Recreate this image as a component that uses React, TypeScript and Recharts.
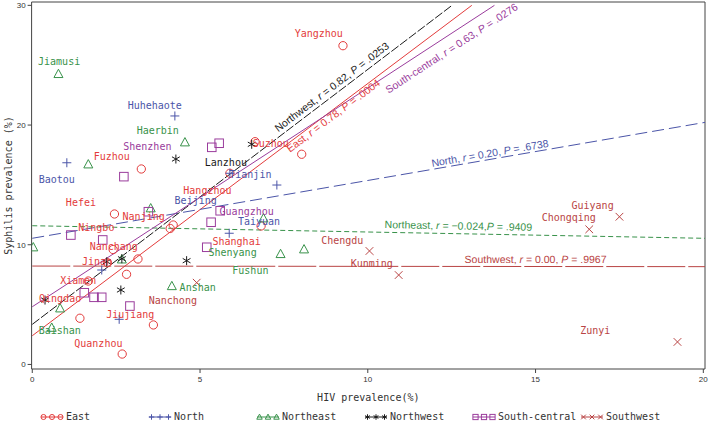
import React from 'react';
import { ScatterChart, Scatter, XAxis, YAxis, ReferenceLine, Legend, Label } from 'recharts';

// ---------- data ----------
const regions = ['East', 'North', 'Northeast', 'Northwest', 'South-central', 'Southwest'];

const eastPoints = [
  { x: 9.26, y: 26.63 }, { x: 6.64, y: 18.61 }, { x: 8.03, y: 17.56 }, { x: 3.25, y: 16.33 },
  { x: 5.89, y: 15.97 }, { x: 4.20, y: 11.65 }, { x: 4.11, y: 11.36 }, { x: 6.82, y: 11.57 },
  { x: 2.45, y: 12.57 }, { x: 2.41, y: 9.60 }, { x: 2.24, y: 8.50 }, { x: 3.15, y: 8.81 },
  { x: 2.81, y: 7.53 }, { x: 1.67, y: 6.97 }, { x: 1.42, y: 3.86 }, { x: 3.61, y: 3.30 },
  { x: 2.68, y: 0.87 },
];
const northPoints = [
  { x: 4.25, y: 20.76 }, { x: 1.03, y: 16.85 }, { x: 7.29, y: 14.99 }, { x: 5.87, y: 10.96 },
  { x: 2.07, y: 7.89 }, { x: 2.59, y: 3.77 }, { x: 5.89, y: 15.97 },
];
const northeastPoints = [
  { x: 0.78, y: 24.27 }, { x: 4.55, y: 18.56 }, { x: 1.67, y: 16.72 }, { x: 3.53, y: 13.05 },
  { x: 0.03, y: 9.79 }, { x: 2.67, y: 8.78 }, { x: 0.83, y: 4.69 }, { x: 0.58, y: 3.07 },
  { x: 4.16, y: 6.55 }, { x: 6.89, y: 12.21 }, { x: 7.40, y: 9.23 }, { x: 8.10, y: 9.62 },
];
const northwestPoints = [
  { x: 4.28, y: 17.16 }, { x: 6.54, y: 18.39 }, { x: 4.60, y: 8.67 }, { x: 2.64, y: 6.22 },
  { x: 0.38, y: 5.38 }, { x: 2.22, y: 8.58 }, { x: 2.67, y: 8.83 },
];
const southCentralPoints = [
  { x: 2.73, y: 15.69 }, { x: 5.35, y: 18.14 }, { x: 5.57, y: 18.48 }, { x: 3.46, y: 12.76 },
  { x: 1.15, y: 10.81 }, { x: 2.10, y: 10.40 }, { x: 5.33, y: 11.88 }, { x: 5.20, y: 9.79 },
  { x: 5.60, y: 12.84 }, { x: 1.55, y: 5.99 }, { x: 1.84, y: 5.61 }, { x: 2.07, y: 5.61 },
  { x: 2.91, y: 4.88 },
];
const southwestPoints = [
  { x: 17.50, y: 12.34 }, { x: 16.60, y: 11.29 }, { x: 19.23, y: 1.88 },
  { x: 10.05, y: 9.48 }, { x: 10.92, y: 7.47 }, { x: 4.90, y: 6.83 },
];

const pointsByRegion = {
  East: eastPoints,
  North: northPoints,
  Northeast: northeastPoints,
  Northwest: northwestPoints,
  'South-central': southCentralPoints,
  Southwest: southwestPoints,
};

// city labels (label centre, data units)
const cityLabels = [
  { name: 'Jiamusi', region: 'Northeast', x: 0.80, y: 25.29 },
  { name: 'Huhehaote', region: 'North', x: 3.65, y: 21.65 },
  { name: 'Haerbin', region: 'Northeast', x: 3.74, y: 19.59 },
  { name: 'Shenzhen', region: 'South-central', x: 3.43, y: 18.25 },
  { name: 'Fuzhou', region: 'East', x: 2.37, y: 17.36 },
  { name: 'Baotou', region: 'North', x: 0.73, y: 15.49 },
  { name: 'Lanzhou', region: 'Northwest', x: 5.77, y: 16.89 },
  { name: 'Hangzhou', region: 'East', x: 5.22, y: 14.52 },
  { name: 'Beijing', region: 'North', x: 4.87, y: 13.74 },
  { name: 'Tianjin', region: 'North', x: 6.50, y: 15.87 },
  { name: 'Guangzhou', region: 'South-central', x: 6.39, y: 12.82 },
  { name: 'Taiyuan', region: 'North', x: 6.76, y: 11.93 },
  { name: 'Shanghai', region: 'East', x: 6.09, y: 10.25 },
  { name: 'Shenyang', region: 'Northeast', x: 5.97, y: 9.37 },
  { name: 'Fushun', region: 'Northeast', x: 6.50, y: 7.83 },
  { name: 'Suzhou', region: 'East', x: 7.11, y: 18.48 },
  { name: 'Yangzhou', region: 'East', x: 8.54, y: 27.67 },
  { name: 'Hefei', region: 'East', x: 1.45, y: 13.55 },
  { name: 'Nanjing', region: 'East', x: 3.32, y: 12.40 },
  { name: 'Ningbo', region: 'East', x: 1.91, y: 11.46 },
  { name: 'Nanchang', region: 'East', x: 2.43, y: 9.84 },
  { name: 'Jinan', region: 'East', x: 1.93, y: 8.58 },
  { name: 'Xiamen', region: 'East', x: 1.37, y: 7.06 },
  { name: 'Qingdao', region: 'East', x: 0.83, y: 5.53 },
  { name: 'Nanchong', region: 'Southwest', x: 4.19, y: 5.38 },
  { name: 'Anshan', region: 'Northeast', x: 4.93, y: 6.41 },
  { name: 'Jiujiang', region: 'East', x: 2.92, y: 4.21 },
  { name: 'Baishan', region: 'Northeast', x: 0.82, y: 2.82 },
  { name: 'Quanzhou', region: 'East', x: 1.97, y: 1.77 },
  { name: 'Chengdu', region: 'Southwest', x: 9.24, y: 10.40 },
  { name: 'Kunming', region: 'Southwest', x: 10.12, y: 8.45 },
  { name: 'Guiyang', region: 'Southwest', x: 16.70, y: 13.32 },
  { name: 'Chongqing', region: 'Southwest', x: 15.99, y: 12.26 },
  { name: 'Zunyi', region: 'Southwest', x: 16.78, y: 2.82 },
];

// regression fits
const regIntercepts = { East: 2.40, North: 10.54, Northeast: 11.59, Northwest: 3.35, 'South-central': 4.82, Southwest: 8.22 };
const regSlopes = { East: 2.107, North: 0.483, Northeast: -0.0525, Northwest: 2.13, 'South-central': 1.828, Southwest: -0.0025 };
const regR = { East: '0.78', North: '0.20', Northeast: '\u22120.024', Northwest: '0.82', 'South-central': '0.63', Southwest: '0.00' };
const regP = { East: '.0004', North: '.6738', Northeast: '.9409', Northwest: '.0253', 'South-central': '.0276', Southwest: '.9967' };
// annotation centres (data units)
const regLabelPos = [
  { region: 'Northwest', x: 8.93, y: 23.18 },
  { region: 'East', x: 8.97, y: 20.78 },
  { region: 'South-central', x: 12.50, y: 26.41 },
  { region: 'North', x: 13.64, y: 17.64 },
  { region: 'Northeast', x: 12.70, y: 11.58 },
  { region: 'Southwest', x: 15.00, y: 8.78 },
];

const xTicks = [0, 5, 10, 15, 20];
const yTicks = [0, 10, 20, 30];

// ---------- styling ----------
const COLORS = {
  East: '#e33b3b',
  North: '#4b55a8',
  Northeast: '#38924a',
  Northwest: '#1a1a1a',
  'South-central': '#9a3c9c',
  Southwest: '#b94444',
};
const MARKERS = {
  East: 'circle', North: 'plus', Northeast: 'triangle', Northwest: 'star', 'South-central': 'square', Southwest: 'cross',
};
const DASHES = {
  East: undefined, North: '12 5', Northeast: '5 3', Northwest: '9 2', 'South-central': undefined, Southwest: '38 3',
};

const X_MIN = -0.02, X_MAX = 20.05, Y_MIN = -0.38, Y_MAX = 30.28, LINE_Y_MAX = 30;
const W = 708, H = 425;
const MARGIN = { top: 2, right: 3, bottom: 0, left: 0 };
const Y_AXIS_W = 31.6, X_AXIS_H = 42, LEGEND_H = 14;
const PLOT_W = W - MARGIN.right - MARGIN.left - Y_AXIS_W;
const PLOT_H = H - MARGIN.top - X_AXIS_H - LEGEND_H;
const PX_X = PLOT_W / (X_MAX - X_MIN);
const PX_Y = PLOT_H / (Y_MAX - Y_MIN);

const MONO = '"DejaVu Sans Mono", "Liberation Mono", monospace';
const SANS = '"Liberation Sans", Arial, sans-serif';

function markerEl(kind, color, cx, cy, s, key?) {
  const h = s / 2;
  const common = { fill: 'none', stroke: color, strokeWidth: 1 };
  switch (kind) {
    case 'circle':
      return <circle key={key} cx={cx} cy={cy} r={h * 0.92} {...common} />;
    case 'plus':
      return <path key={key} d={`M${cx - h},${cy}H${cx + h}M${cx},${cy - h}V${cy + h}`} {...common} />;
    case 'triangle':
      return <path key={key} d={`M${cx},${cy - h * 1.05}L${cx + h},${cy + h * 0.8}L${cx - h},${cy + h * 0.8}Z`} {...common} />;
    case 'square':
      return <rect key={key} x={cx - h * 0.95} y={cy - h * 0.95} width={h * 1.9} height={h * 1.9} {...common} />;
    case 'cross': {
      const d = h * 0.85;
      return <path key={key} d={`M${cx - d},${cy - d}L${cx + d},${cy + d}M${cx - d},${cy + d}L${cx + d},${cy - d}`} {...common} />;
    }
    case 'star': {
      const c = h * Math.cos(Math.PI / 6), sn = h * Math.sin(Math.PI / 6);
      return (
        <path key={key}
          d={`M${cx},${cy - h}V${cy + h}M${cx - c},${cy - sn}L${cx + c},${cy + sn}M${cx - c},${cy + sn}L${cx + c},${cy - sn}`}
          {...common} />
      );
    }
    default:
      return null;
  }
}

const makeShape = (region) => (props) => {
  const { cx, cy } = props;
  if (cx == null || cy == null) return null;
  return markerEl(MARKERS[region], COLORS[region], cx, cy, 9);
};

const CityLabelShape = (props) => {
  const { cx, cy, payload } = props;
  if (cx == null || cy == null) return null;
  return (
    <text x={cx} y={cy} dy={3.6} textAnchor="middle" fontFamily={MONO} fontSize={10}
      fill={COLORS[payload.region]}>
      {payload.name}
    </text>
  );
};

const RegLabelShape = (props) => {
  const { cx, cy, payload } = props;
  if (cx == null || cy == null) return null;
  const region = payload.region;
  const angle = (-Math.atan((regSlopes[region] * PX_Y) / PX_X) * 180) / Math.PI;
  const sep = region === 'Northeast' ? ',' : ', ';
  return (
    <text x={cx} y={cy} dy={3.6} textAnchor="middle" fontFamily={SANS} fontSize={10.5}
      fill={COLORS[region]} transform={`rotate(${angle} ${cx} ${cy})`}>
      {region + ', '}
      <tspan fontStyle="italic">r</tspan>
      {' = ' + regR[region] + sep}
      <tspan fontStyle="italic">P</tspan>
      {' = ' + regP[region]}
    </text>
  );
};

function regSegment(region) {
  const b = regIntercepts[region];
  const m = regSlopes[region];
  let xe = X_MAX;
  if (m > 0) xe = Math.min(X_MAX, (LINE_Y_MAX - b) / m);
  return [{ x: 0, y: b }, { x: xe, y: b + m * xe }];
}

const renderLegend = () => (
  <div style={{ position: 'relative', width: W, height: LEGEND_H, fontFamily: MONO, fontSize: 10, color: '#333' }}>
    {regions.map((r, i) => (
      <div key={r} style={{ position: 'absolute', left: 40 + i * 108, top: 0, height: LEGEND_H, display: 'flex', alignItems: 'center', whiteSpace: 'nowrap' }}>
        <svg width={24} height={LEGEND_H} style={{ display: 'block' }}>
          <line x1={1} x2={23} y1={LEGEND_H / 2} y2={LEGEND_H / 2} stroke={COLORS[r]} strokeWidth={1} />
          {[3.5, 12, 20.5].map((mx, j) => markerEl(MARKERS[r], COLORS[r], mx, LEGEND_H / 2, 5.5, j))}
        </svg>
        <span style={{ marginLeft: 2, lineHeight: `${LEGEND_H}px` }}>{r}</span>
      </div>
    ))}
  </div>
);

const XTitle = (props) => {
  const vb = props.viewBox || { x: Y_AXIS_W, y: MARGIN.top + PLOT_H, width: PLOT_W, height: X_AXIS_H };
  return (
    <text x={vb.x + vb.width / 2} y={vb.y + 31.5} textAnchor="middle" fontFamily={MONO} fontSize={10} fill="#333">
      HIV prevalence(%)
    </text>
  );
};

const YTitle = (props) => {
  const vb = props.viewBox || { x: 0, y: MARGIN.top, width: Y_AXIS_W, height: PLOT_H };
  const x = vb.x + 8.5;
  const y = vb.y + vb.height / 2;
  return (
    <text x={x} y={y} dy={3.5} textAnchor="middle" fontFamily={MONO} fontSize={10} fill="#333"
      transform={`rotate(-90 ${x} ${y})`}>
      Syphilis prevalence (%)
    </text>
  );
};

export default function App() {
  return (
    <div style={{ position: 'absolute', left: 0, top: 0, width: W, height: H, background: '#fff' }}>
      <ScatterChart width={W} height={H} margin={MARGIN}>
        <XAxis type="number" dataKey="x" domain={[X_MIN, X_MAX]} ticks={xTicks} allowDataOverflow
          height={X_AXIS_H} tickSize={4} tickMargin={3} stroke="#444"
          tick={{ fontSize: 8, fill: '#333', fontFamily: SANS }}>
          <Label content={<XTitle />} />
        </XAxis>
        <YAxis type="number" dataKey="y" domain={[Y_MIN, Y_MAX]} ticks={yTicks} allowDataOverflow
          width={Y_AXIS_W} tickSize={4} tickMargin={2} stroke="#444"
          tick={{ fontSize: 8, fill: '#333', fontFamily: SANS }}>
          <Label content={<YTitle />} />
        </YAxis>
        <ReferenceLine y={Y_MAX} stroke="#444" ifOverflow="visible" />
        <ReferenceLine x={X_MAX} stroke="#444" ifOverflow="visible" />

        {regions.map((r) => (
          <ReferenceLine key={'l' + r} segment={regSegment(r)} stroke={COLORS[r]} strokeWidth={1}
            strokeDasharray={DASHES[r]} ifOverflow="visible" />
        ))}

        {regions.map((r) => (
          <Scatter key={r} name={r} data={pointsByRegion[r]} shape={makeShape(r)} isAnimationActive={false} />
        ))}

        <Scatter name="cities" data={cityLabels} shape={CityLabelShape} isAnimationActive={false} legendType="none" />
        <Scatter name="fits" data={regLabelPos} shape={RegLabelShape} isAnimationActive={false} legendType="none" />

        <Legend verticalAlign="bottom" content={renderLegend}
          wrapperStyle={{ position: 'absolute', left: 0, top: H - LEGEND_H - 1, bottom: 'auto', width: W, height: LEGEND_H }} />
      </ScatterChart>
    </div>
  );
}
